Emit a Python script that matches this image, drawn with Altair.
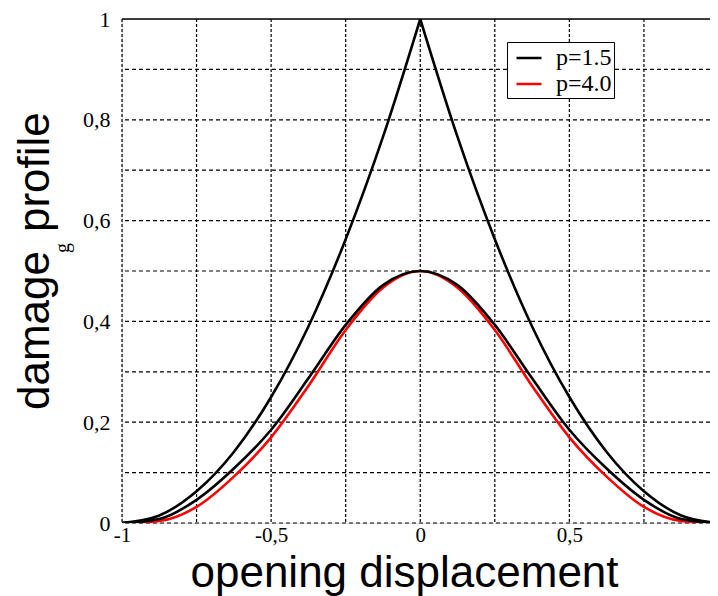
import altair as alt
import pandas as pd

# x positions where values were read (left half, mirrored for the right half)
xs_left = [-1.0, -0.875, -0.75, -0.625, -0.5, -0.375, -0.25, -0.125, 0.0]
peak_left = [0.0, 0.015, 0.063, 0.141, 0.25, 0.39, 0.563, 0.766, 1.0]
bell15_left = [0.0, 0.008, 0.046, 0.108, 0.185, 0.287, 0.393, 0.472, 0.5]
bell40_left = [0.0, 0.004, 0.032, 0.092, 0.17, 0.272, 0.383, 0.467, 0.5]

x_grid = [-1.0, -0.75, -0.5, -0.25, 0.0, 0.25, 0.5, 0.75]
y_grid = [0.0, 0.1, 0.2, 0.3, 0.4, 0.5, 0.6, 0.7, 0.8, 0.9]
x_labels = [-1.0, -0.5, 0.0, 0.5]
y_labels = [0.0, 0.2, 0.4, 0.6, 0.8, 1.0]

series_names = ["p=1.5", "p=4.0", "peak"]
series_colors = ["#000000", "#ff0000", "#000000"]

rows = []
def add(name, part, xs, ys):
    for a, b in zip(xs, ys):
        rows.append({"x": a, "y": b, "series": name, "part": part})

add("peak", "L", xs_left, peak_left)
add("peak", "R", [-v for v in xs_left], peak_left)
def full(xl, yl):
    xr = [-v for v in xl[::-1]][1:]
    yr = yl[::-1][1:]
    return xl + xr, yl + yr
bx, by = full(xs_left, bell15_left)
add("p=1.5", "A", bx, by)
rx, ry = full(xs_left, bell40_left)
add("p=4.0", "A", rx, ry)
df = pd.DataFrame(rows)

XDOM = [-1, 0.9715]

color = alt.Color(
    "series:N",
    scale=alt.Scale(domain=series_names, range=series_colors),
    legend=alt.Legend(
        values=["p=1.5", "p=4.0"], title=None, orient="none",
        legendX=385, legendY=23, symbolType="stroke", symbolSize=625,
        symbolStrokeWidth=2.5, labelFont="Liberation Serif", labelFontSize=24,
        labelColor="black", strokeColor="black", fillColor="white",
        padding=2, rowPadding=0, labelOffset=13, symbolOffset=6,
        labelExpr="datum.label + '\u2002'",
    ),
)

xenc = alt.X(
    "x:Q",
    scale=alt.Scale(domain=XDOM, nice=False, zero=False),
    axis=alt.Axis(
        values=x_labels, title="opening displacement", ticks=False, domain=False,
        grid=False,
        labelExpr="(datum.value < 0 ? '-' : '') + replace(toString(abs(datum.value)), '.', ',')",
        labelFont="Liberation Serif", labelFontSize=21, labelColor="black",
        labelPadding=1, labelFlush=False,
        titleFont="Liberation Sans", titleFontSize=44, titleFontWeight="normal",
        titleColor="black", titleX=282, titleY=63, titleBaseline="alphabetic",
    ),
)
yenc = alt.Y(
    "y:Q",
    scale=alt.Scale(domain=[0, 1], nice=False),
    axis=alt.Axis(
        values=y_labels, title=None, ticks=False, domain=False, grid=False,
        labelExpr="replace(toString(datum.value), '.', ',')",
        labelFont="Liberation Serif", labelFontSize=22, labelColor="black",
        labelPadding=12, labelFlush=False,
    ),
)

vgrid = alt.Chart(pd.DataFrame({"g": x_grid})).mark_rule(
    color="black", strokeWidth=1.2, strokeDash=[3, 2]
).encode(x=alt.X("g:Q", scale=alt.Scale(domain=XDOM, nice=False, zero=False)))
hgrid = alt.Chart(pd.DataFrame({"g": y_grid})).mark_rule(
    color="black", strokeWidth=1.2, strokeDash=[4, 3]
).encode(y=alt.Y("g:Q", scale=alt.Scale(domain=[0, 1], nice=False)))
top = alt.Chart(pd.DataFrame({"g": [1.0]})).mark_rule(
    color="black", strokeWidth=1.6
).encode(y=alt.Y("g:Q", scale=alt.Scale(domain=[0, 1], nice=False)))

base = alt.Chart(df)
red = base.transform_filter(alt.datum.series == "p=4.0").mark_line(
    interpolate="monotone", strokeWidth=2.6, clip=True
).encode(x=xenc, y=yenc, color=color, detail="part:N")
black = base.transform_filter(alt.datum.series != "p=4.0").mark_line(
    interpolate="monotone", strokeWidth=2.6, clip=True
).encode(x=xenc, y=yenc, color=color, detail="part:N")

def label(txt, x, y, size, font):
    return alt.Chart(pd.DataFrame({"t": [txt]})).mark_text(
        angle=270, align="left", baseline="alphabetic", font=font,
        fontSize=size, color="black"
    ).encode(x=alt.value(x), y=alt.value(y), text="t:N")

t1 = label("damage", -73, 391, 44, "Liberation Sans")
t2 = label("g", -53, 234, 20, "Liberation Serif")
t3 = label("profile", -73, 213, 44, "Liberation Sans")

chart = alt.layer(vgrid, hgrid, top, red, black, t1, t2, t3).properties(
    width=588, height=504,
    autosize=alt.AutoSizeParams(type="none"),
    padding={"left": 114, "top": 11, "right": 0, "bottom": 73},
).configure_view(strokeWidth=0).configure(background="white")

chart.save("out.html", embed_options={"renderer": "svg", "actions": False})
